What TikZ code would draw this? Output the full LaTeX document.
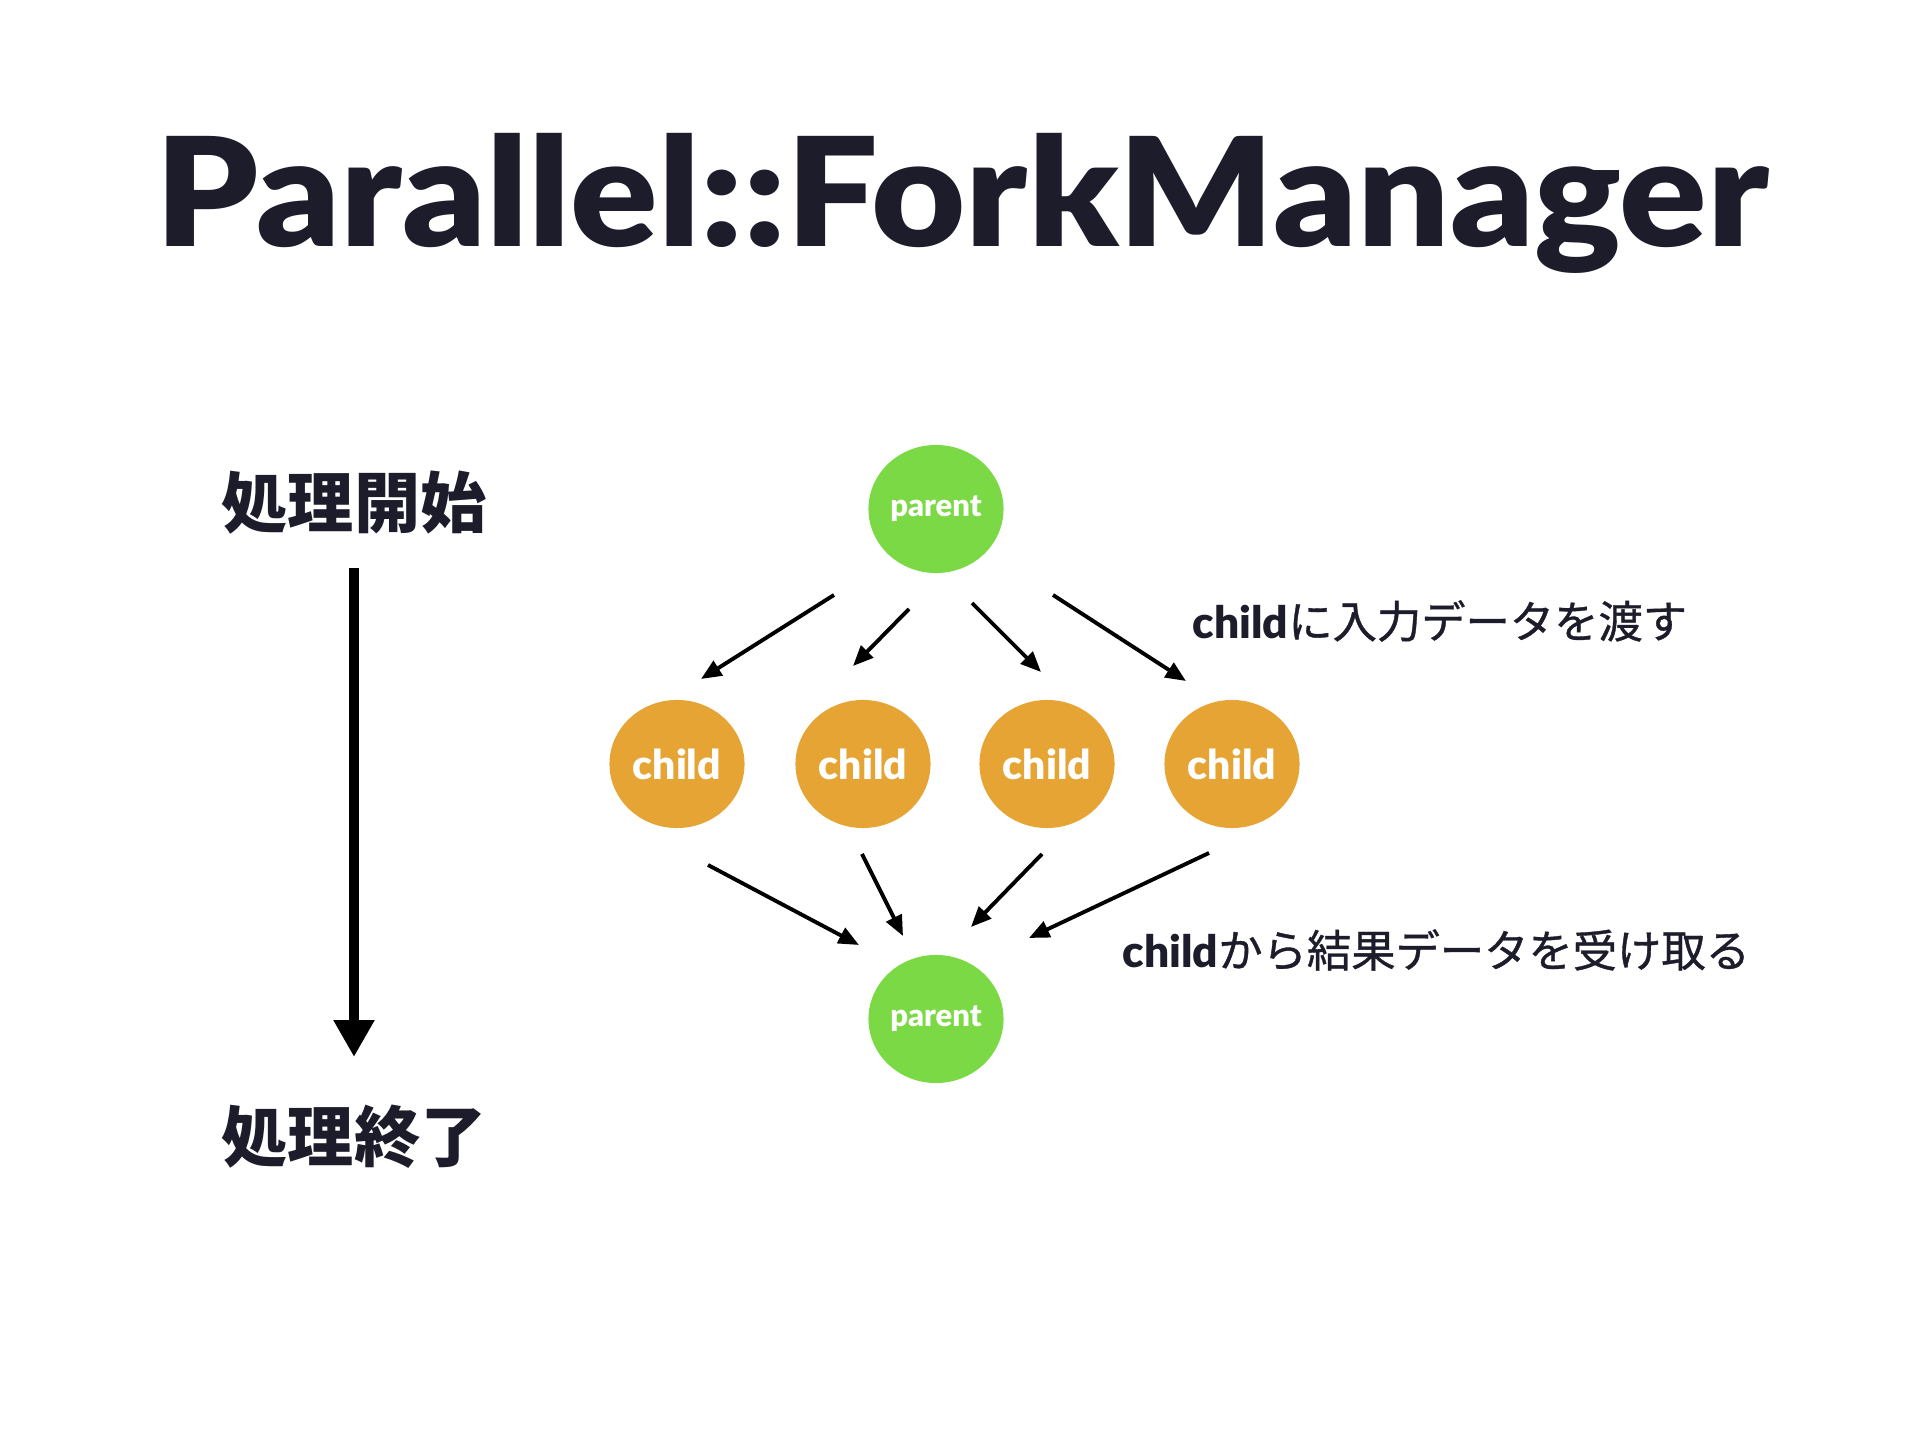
\documentclass[tikz,border=0pt]{standalone}
\usepackage{fontspec}
\setmainfont{Lato}
\newfontfamily\heavy{Lato Black}
\newfontfamily\jp{Noto Sans CJK JP}
\newfontfamily\jpm{Noto Sans CJK JP}[FakeBold=0.8]
\usetikzlibrary{arrows.meta,shapes.geometric}
\definecolor{ink}{HTML}{1C1C2B}
\definecolor{pgreen}{HTML}{7AD944}
\definecolor{corange}{HTML}{E6A434}
\begin{document}
\begin{tikzpicture}[x=0.01cm,y=-0.01cm,
  parentnode/.style={ellipse, fill=pgreen, minimum width=1.35cm, minimum height=1.28cm, inner sep=0pt, text=white, font=\heavy\fontsize{8.8}{8.8}\selectfont},
  childnode/.style={ellipse, fill=corange, minimum width=1.35cm, minimum height=1.28cm, inner sep=0pt, text=white, font=\heavy\fontsize{11.6}{11.6}\selectfont},
  arr/.style={-{Triangle[length=5.8pt,width=4.8pt]}, line width=1.1pt, black},
  bigarr/.style={-{Triangle[length=10.5pt,width=11pt]}, line width=2.85pt, black},
  heading/.style={text=ink, font=\jp\bfseries\fontsize{18.8}{18.8}\selectfont, inner sep=0pt},
  label/.style={text=ink, font=\fontsize{12.6}{12.6}\selectfont, inner sep=0pt, anchor=west}
]
\fill[white] (0,0) rectangle (1920,1440);
\useasboundingbox (0,0) rectangle (1920,1440);

\node[text=ink, font=\heavy\fontsize{43}{43}\selectfont, anchor=base, inner sep=0pt, xscale=1.075] (title) at (962,247) {Parallel::ForkManager};

\node[heading] (start) at (354,503) {処理開始};
\node[heading] (end) at (354,1137) {処理終了};
\draw[bigarr] ([shift={(0,65)}]start.center) -- ([shift={(0,-80)}]end.center);

\node[parentnode] (p1) at (936,509) {parent};
\node[childnode] (c1) at (677,764) {child};
\node[childnode] (c2) at (863,764) {child};
\node[childnode] (c3) at (1047,764) {child};
\node[childnode] (c4) at (1232,764) {child};
\node[parentnode] (p2) at (936,1019) {parent};

\draw[arr] ([shift={(-102,86)}]p1.center) -- ([shift={(24,-85)}]c1.center);
\draw[arr] ([shift={(-27,100)}]p1.center) -- ([shift={(-10,-98)}]c2.center);
\draw[arr] ([shift={(36,94)}]p1.center) -- ([shift={(-6,-92)}]c3.center);
\draw[arr] ([shift={(117,86)}]p1.center) -- ([shift={(-46,-83)}]c4.center);

\draw[arr] ([shift={(31,101)}]c1.center) -- ([shift={(-77,-74)}]p2.center);
\draw[arr] ([shift={(-1,90)}]c2.center) -- ([shift={(-33,-83)}]p2.center);
\draw[arr] ([shift={(-5,90)}]c3.center) -- ([shift={(35,-92)}]p2.center);
\draw[arr] ([shift={(-23,89)}]c4.center) -- ([shift={(93,-81)}]p2.center);

\node[label] (lab1) at (1192,621) {{\heavy child}{\jpm に入力データを渡す}};
\node[label] (lab2) at (1122,950) {{\heavy child}{\jpm から結果データを受け取る}};
\end{tikzpicture}
\end{document}
